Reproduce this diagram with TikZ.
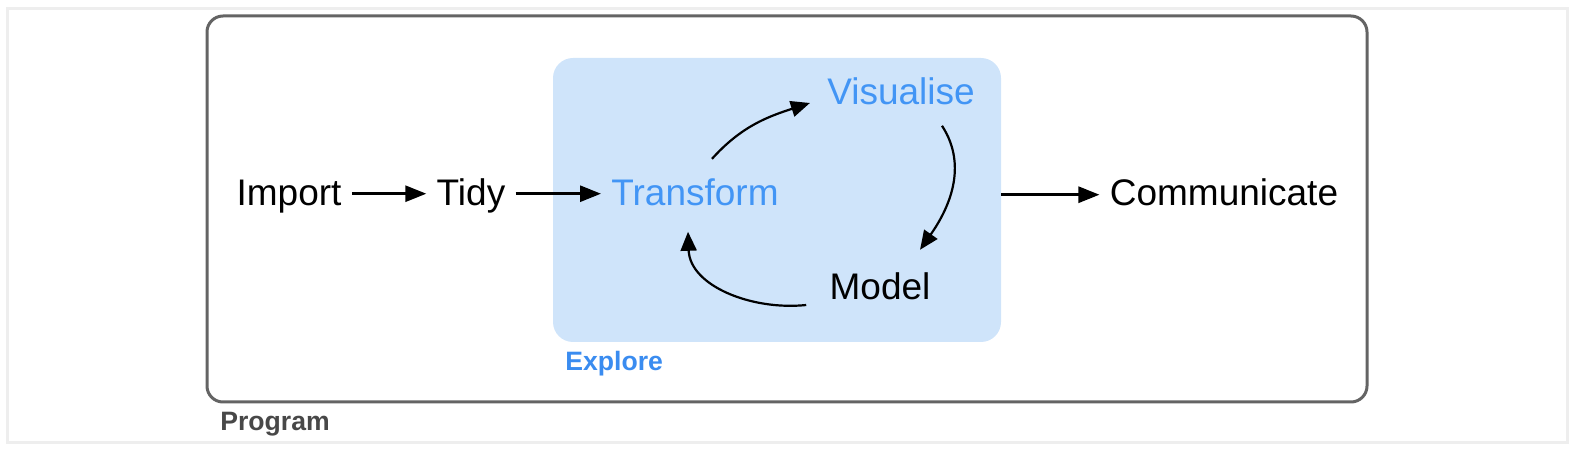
\documentclass[tikz,border=0pt]{standalone}
\usepackage{fontspec}
\setmainfont{Liberation Sans}
\usetikzlibrary{arrows.meta}
\definecolor{ds_blue}{RGB}{66, 149, 245}
\definecolor{ds_tagblue}{RGB}{58, 140, 240}
\definecolor{ds_fill}{RGB}{207, 228, 250}
\definecolor{ds_grey}{RGB}{100, 100, 100}
\definecolor{ds_tag}{RGB}{72, 72, 72}
\definecolor{ds_frame}{RGB}{238, 238, 238}
\tikzstyle{stage}=[inner sep=5pt,anchor=base,text=black,
  font=\fontsize{18.5}{22}\selectfont]
\tikzstyle{bstage}=[stage,text=ds_blue]
\tikzstyle{tag}=[inner sep=0pt,anchor=base west,
  font=\fontsize{13.3}{16}\selectfont\bfseries]
\tikzstyle{flow}=[-{Triangle[length=10.5pt,width=8pt]},line width=1.4pt]
\tikzstyle{cyc}=[-{Triangle[length=9.5pt,width=8pt]},line width=1.1pt]

\begin{document}
\begin{tikzpicture}[x=0.5pt,y=0.5pt]
    \useasboundingbox (0,0) rectangle (1575,450);
    \draw [ds_frame,line width=1.5pt] (7,7) rectangle (1567,441);
    \node [draw=ds_grey,line width=1.5pt,rounded corners=8pt,inner sep=0pt,
      minimum width=580pt,minimum height=193pt] (prog) at (787,241) {};
    \node [fill=ds_fill,rounded corners=10pt,inner sep=0pt,
      minimum width=224pt,minimum height=142pt] (expl) at (777,250) {};
    \node [style=tag,text=ds_tag] (progtag) at (220,19) {Program};
    \node [style=tag,text=ds_tagblue] (expltag) at (565,79) {Explore};
    \node [style=stage] (imp) at (289,244) {Import};
    \node [style=stage] (tidy) at (471,244) {Tidy};
    \node [style=bstage] (tr) at (695,244) {Transform};
    \node [style=bstage] (vis) at (901,345) {Visualise};
    \node [style=stage] (mod) at (880,150) {Model};
    \node [style=stage] (comm) at (1224,244) {Communicate};
    \draw [style=flow] ([yshift=3.5pt]imp.mid east) to ([yshift=3.5pt]tidy.mid west);
    \draw [style=flow] ([yshift=3.5pt]tidy.mid east) to ([yshift=3.5pt]tr.mid west);
    \draw [style=flow] ([yshift=3pt]expl.east |- comm.mid west) to ([yshift=3pt]comm.mid west);
    \draw [style=cyc] ([shift={(17,10)}]tr.north) to[out=48,in=198]
      ([shift={(-7,2)}]vis.base west);
    \draw [style=cyc] ([shift={(41,-10)}]vis.south) to[out=-57,in=55]
      ([shift={(40,13)}]mod.north);
    \draw [style=cyc] ([shift={(-13,-5)}]mod.base west) to[out=186,in=-88]
      ([shift={(-7,-15)}]tr.south);
\end{tikzpicture}
\end{document}
